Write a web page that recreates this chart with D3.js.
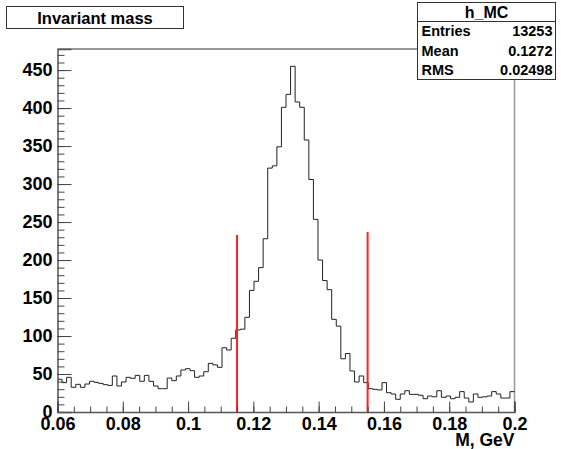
<!DOCTYPE html>
<html>
<head>
<meta charset="utf-8">
<script src="https://cdn.jsdelivr.net/npm/d3@7"></script>
<style>
  body { margin: 0; background: #fff; }
  text { font-family: "Liberation Sans", Arial, sans-serif; font-weight: bold; }
</style>
</head>
<body>
<div id="chart"></div>
<script>
// histogram h_MC: 100 bins from 0.06 to 0.2
const xMin = 0.06;
const xMax = 0.2;
const counts = [
    43, 38.6, 45.6, 32.5, 36.4, 32.5, 36.8, 40.4, 39, 37.7,
    36, 35, 47.4, 34.2, 39.5, 45.6, 44.3, 48.2, 40.4, 48.2,
    40.4, 34.2, 30.7, 30.7, 44.7, 41.2, 47.4, 55.3, 57, 54.4,
    45.6, 47.4, 53, 64, 62, 58.8, 84.6, 81.6, 97, 108,
    109, 124.6, 160, 172, 190, 228, 321, 324, 349, 401,
    418, 455, 408, 401, 358, 306, 253.5, 200, 173, 161,
    122, 113, 70, 77, 54, 39.5, 47.4, 38.6, 30.7, 29.8,
    29, 38.6, 25.4, 23.7, 16.7, 23.7, 28, 23.2, 23.2, 22,
    17.5, 21, 20, 28, 19.3, 21, 17.5, 19.3, 26.8, 18.4,
    13.2, 23.7, 19.3, 20, 21, 26.8, 23.7, 18.4, 18.4, 26.8
];

// red cut lines: [x, height]
const cuts = [[0.115, 233], [0.155, 237]];

// stats box
const histName = "h_MC";
const statLabels = ["Entries", "Mean", "RMS"];
const statValues = ["13253", "0.1272", "0.02498"];
const title = "Invariant mass";
const xTitle = "M, GeV";

const yMajor = d3.range(0, 451, 50);
const yMinor = d3.range(0, 471, 10);
const xMajor = d3.range(0.06, 0.2001, 0.02);
const xMinor = d3.range(0.06, 0.2001, 0.005);

const W = 561, H = 449;
const padL = 57.5, padR = 514.5, padT = 49, padB = 412;

const svg = d3.select("#chart").append("svg")
    .attr("width", W)
    .attr("height", H);

const binW = (xMax - xMin) / counts.length;
const yTop = d3.max(counts) * 1.05;

const x = d3.scaleLinear().domain([xMin, xMax]).range([padL, padR]);
const y = d3.scaleLinear().domain([0, yTop]).range([padB, padT]);

// frame top + right
svg.append("line")
    .attr("x1", padL).attr("x2", padR)
    .attr("y1", padT).attr("y2", padT)
    .attr("stroke", "#333");
svg.append("line")
    .attr("x1", padR).attr("x2", padR)
    .attr("y1", padT).attr("y2", padB)
    .attr("stroke", "#999")
    .attr("stroke-width", 1.5);

// histogram outline
const pts = counts.map((c, i) => [xMin + i * binW, c]);
pts.push([xMax, counts[counts.length - 1]]);
const line = d3.line()
    .x(d => x(d[0]))
    .y(d => y(d[1]))
    .curve(d3.curveStepAfter);
svg.append("path")
    .attr("d", line(pts))
    .attr("fill", "none")
    .attr("stroke", "#222")
    .attr("stroke-width", 1);

// cut lines
svg.selectAll(".cut")
    .data(cuts)
    .enter()
    .append("line")
    .attr("class", "cut")
    .attr("x1", d => x(d[0])).attr("x2", d => x(d[0]))
    .attr("y1", y(0)).attr("y2", d => y(d[1]))
    .attr("stroke", "#ff2020")
    .attr("stroke-width", 2);

// y axis (ticks inside)
const yAxis = d3.axisLeft(y).tickValues(yMajor).tickSize(-14).tickPadding(5);
svg.append("g")
    .attr("transform", "translate(" + padL + ",0)")
    .call(yAxis);
svg.append("g")
    .attr("transform", "translate(" + padL + ",0)")
    .call(d3.axisLeft(y).tickValues(yMinor).tickSize(-7).tickFormat(""))
    .call(g => g.select(".domain").remove());

// x axis
const xAxis = d3.axisBottom(x).tickValues(xMajor).tickSize(-10.5).tickPadding(5)
    .tickFormat(d => d3.format("~g")(+d.toFixed(3)));
svg.append("g")
    .attr("transform", "translate(0," + padB + ")")
    .call(xAxis);
svg.append("g")
    .attr("transform", "translate(0," + padB + ")")
    .call(d3.axisBottom(x).tickValues(xMinor).tickSize(-5.5).tickFormat(""))
    .call(g => g.select(".domain").remove());

svg.selectAll(".domain").attr("stroke", "#555").attr("stroke-width", 1.5);
svg.selectAll(".tick line").attr("stroke", "#444");
svg.selectAll(".tick text")
    .attr("fill", "#000")
    .style("font-size", "18px")
    .style("font-family", "'Liberation Sans', Arial, sans-serif")
    .style("font-weight", "bold");

// x axis title
svg.append("text")
    .text(xTitle)
    .attr("x", padR)
    .attr("y", 446)
    .attr("text-anchor", "end")
    .style("font-size", "17.5px");

// title box
svg.append("rect")
    .attr("x", 6.5).attr("y", 6.5)
    .attr("width", 177).attr("height", 22)
    .attr("fill", "#fff")
    .attr("stroke", "#333");
svg.append("text")
    .text(title)
    .attr("x", 95)
    .attr("y", 24)
    .attr("text-anchor", "middle")
    .style("font-size", "16.5px");

// stats box
const sx = 417.5, sw = 138, sy = 2.5, sh = 77;
const rowH = (sh - 19) / statLabels.length;
svg.append("rect")
    .attr("x", sx).attr("y", sy)
    .attr("width", sw).attr("height", sh)
    .attr("fill", "#fff")
    .attr("stroke", "#333");
svg.append("line")
    .attr("x1", sx).attr("x2", sx + sw)
    .attr("y1", sy + 19).attr("y2", sy + 19)
    .attr("stroke", "#333");
svg.append("text")
    .text(histName)
    .attr("x", sx + sw / 2)
    .attr("y", sy + 15.5)
    .attr("text-anchor", "middle")
    .style("font-size", "16px");
statLabels.forEach((lab, i) => {
    const yy = sy + 19 + rowH * i + rowH / 2 + 5;
    svg.append("text")
        .text(lab)
        .attr("x", sx + 4)
        .attr("y", yy)
        .style("font-size", "14.5px");
    svg.append("text")
        .text(statValues[i])
        .attr("x", sx + sw - 3)
        .attr("y", yy)
        .attr("text-anchor", "end")
        .style("font-size", "14.5px");
});
</script>
</body>
</html>
